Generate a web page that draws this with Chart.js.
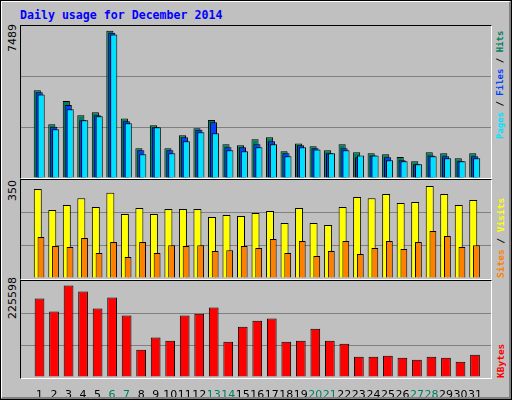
<!DOCTYPE html>
<html>
<head>
<meta charset="utf-8">
<script src="https://cdn.jsdelivr.net/npm/chart.js@4"></script>
<style>
  body { margin: 0; background: #fff; }
  #wrap { position: relative; width: 510px; height: 398px; background: #C0C0C0;
          border: 1px solid #000; overflow: hidden; }
  #wrap:after { content: ""; position: absolute; left: 0; top: 0; right: 0; bottom: 0;
          border-top: 1px solid #fff; border-left: 1px solid #fff;
          border-right: 2px solid #808080; border-bottom: 2px solid #808080; pointer-events: none; }
  .frame { position: absolute; border-top: 1px solid #000; border-left: 1px solid #000;
           border-right: 1px solid #fff; border-bottom: 1px solid #fff; }
  canvas { position: absolute; }
  .title { position: absolute; left: 19px; top: 7px; color: #0000FF;
           font: bold 11.6px "DejaVu Sans Mono", monospace; }
  .lab { position: absolute; transform-origin: 0 0; transform: rotate(-90deg);
         white-space: nowrap; font: 11px "DejaVu Sans", sans-serif; }
  .rlab { font: bold 9px "DejaVu Sans Mono", monospace; }
</style>
</head>
<body>
<script>
const days = Array.from({length: 31}, (_, i) => i + 1);
const weekend = [6, 7, 13, 14, 20, 21, 27, 28];
const hits  = [4460,2730,3910,3185,3340,7489,3030,1510,2680,1510,2170,2525,2950,1710,1660,1965,2070,1355,1760,1610,1405,1710,1305,1255,1205,1065,850,1305,1255,1000,1255];
const files = [4355,2605,3710,2930,3185,7385,2880,1405,2575,1405,2070,2455,2830,1560,1560,1710,1865,1255,1660,1510,1255,1510,1050,1150,1050,900,695,1150,1100,850,1100];
const pages = [4250,2475,3490,2930,3135,7300,2780,1205,2575,1255,1865,2320,2270,1405,1355,1560,1710,1100,1560,1455,1255,1405,1150,1150,900,850,695,1100,1000,850,1000];
const visits = [339,259,278,304,270,324,244,266,244,263,263,263,232,240,236,247,255,209,266,209,202,270,308,304,320,285,289,350,320,278,297];
const sites  = [156,122,118,152,95,137,80,137,95,125,122,125,103,106,122,114,148,95,141,84,103,141,91,114,141,110,137,179,160,118,125];
const kbytes = [193500,161400,225598,210800,168800,196000,151500,67500,97200,89700,151500,156400,171300,87300,124300,139100,144100,87300,89700,119400,89700,82300,50200,50200,52700,47800,42800,50200,47800,37900,55200];
const maxLabels = ["7489", "350", "225598"];
</script>
<div id="wrap">
  <div class="title">Daily usage for December 2014</div>
  <div class="frame" style="left:19px;top:24px;width:470px;height:152px"></div>
  <div class="frame" style="left:19px;top:178px;width:470px;height:99px"></div>
  <div class="frame" style="left:19px;top:279px;width:470px;height:97px"></div>
  <canvas id="c1" style="left:20px;top:25px"></canvas>
  <canvas id="c2" style="left:20px;top:179px"></canvas>
  <canvas id="c3" style="left:20px;top:280px"></canvas>
  <div class="lab" style="left:5px;top:51px" id="m1"></div>
  <div class="lab" style="left:5px;top:200px" id="m2"></div>
  <div class="lab" style="left:5px;top:318px" id="m3"></div>
  <div class="lab rlab" style="left:494px;top:138px"><span style="color:#00E0FF">Pages</span> / <span style="color:#0040FF">Files</span> / <span style="color:#008060">Hits</span></div>
  <div class="lab rlab" style="left:494px;top:277px;font-size:9.5px"><span style="color:#FF8000">Sites</span> / <span style="color:#FFFF00">Visits</span></div>
  <div class="lab rlab" style="left:494px;top:377px;font-size:9.5px"><span style="color:#FF0000">KBytes</span></div>
</div>
<script>
document.getElementById('m1').textContent = maxLabels[0];
document.getElementById('m2').textContent = maxLabels[1];
document.getElementById('m3').textContent = maxLabels[2];

const W = 470, PX = 15;
function xAxis(center, show) {
  const min = 1 - (center - 20) / PX;
  return {
    type: 'linear', min: min, max: min + W / PX, display: show,
    grid: { display: false }, border: { display: false },
    afterBuildTicks: s => { s.ticks = days.map(v => ({ value: v })); },
    afterFit: s => { if (show) s.height = 22; },
    ticks: {
      padding: 4, autoSkip: false, maxRotation: 0, minRotation: 0,
      font: { family: 'DejaVu Sans', size: 11 },
      color: c => weekend.includes(c.tick.value) ? '#008060' : '#000',
      callback: v => String(v)
    }
  };
}
function yAxis(max) {
  return {
    min: 0, max: max, display: true,
    afterBuildTicks: s => { s.ticks = [0, max / 3, 2 * max / 3, max].map(v => ({ value: v })); },
    afterFit: s => { s.width = 0; },
    ticks: { display: false },
    border: { display: false },
    grid: { drawTicks: false, color: c => (c.index === 1 || c.index === 2) ? '#808080' : 'rgba(0,0,0,0)' }
  };
}
function ds(data, color, axis, w, order) {
  return {
    data: data.map((v, i) => ({ x: days[i], y: v })),
    backgroundColor: color, borderColor: '#000', borderWidth: 1, order: order,
    xAxisID: axis, grouped: false, categoryPercentage: 1, barPercentage: w, borderSkipped: 'bottom'
  };
}
function make(id, h, datasets, scales) {
  const c = document.getElementById(id);
  c.width = W; c.height = h; c.style.width = W + 'px'; c.style.height = h + 'px';
  new Chart(c, {
    type: 'bar',
    data: { datasets: datasets },
    options: {
      responsive: false, animation: false, devicePixelRatio: 1,
      layout: { padding: 0 },
      plugins: { legend: { display: false }, tooltip: { enabled: false } },
      scales: scales
    }
  });
}
make('c1', 152, [
  ds(hits, '#008060', 'xh', 0.49, 2),
  ds(files, '#0040FF', 'xf', 0.49, 1),
  ds(pages, '#00E0FF', 'xp', 0.49, 0)
], { xh: xAxis(29, false), xf: xAxis(31, false), xp: xAxis(33, false), y: yAxis(7728) });
make('c2', 98, [
  ds(visits, '#FFFF00', 'xv', 0.55, 1),
  ds(sites, '#FF8000', 'xs', 0.47, 0)
], { xv: xAxis(29.5, false), xs: xAxis(32.8, false), y: yAxis(373) });
make('c3', 118, [
  ds(kbytes, '#FF0000', 'xk', 0.67, 0)
], { xk: xAxis(31.3, true), y: yAxis(236950) });
</script>
</body>
</html>
